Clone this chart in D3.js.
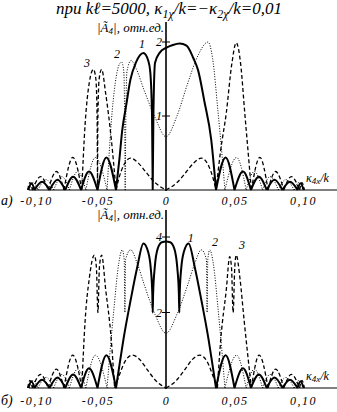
<!DOCTYPE html>
<html>
<head>
<meta charset="utf-8">
<script src="https://cdn.jsdelivr.net/npm/d3@7"></script>
<style>
  body { margin: 0; background: #fff; }
  text { font-family: "Liberation Serif", "DejaVu Serif", serif; font-style: italic; fill: #000; }
</style>
</head>
<body>
<svg id="board" width="337" height="412"></svg>
<script>
// x ticks and labels (same for both panels)
var xTicks = [-0.10, -0.05, 0, 0.05, 0.10];

// panel a) values, kappa/k vs |A4|
var solidA = [
  [-0.1005,0],[-0.0982,0.09],[-0.0960,0],[-0.0905,0.11],[-0.0850,0],[-0.0792,0.14],[-0.0735,0],
  [-0.0678,0.18],[-0.0620,0],[-0.0562,0.25],[-0.0500,0],[-0.0435,0.44],[-0.0365,0],
  [-0.034,0.42],[-0.032,0.8],[-0.029,1.15],[-0.026,1.49],[-0.022,1.72],[-0.0165,1.85],[-0.013,1.75],
  [-0.0115,1.6],[-0.0102,1.0],[-0.0097,0],
  [-0.0092,1.0],[-0.008,1.72],[-0.0044,1.86],[0,1.92],[0.005,1.96],[0.010,1.98],[0.015,1.95],
  [0.020,1.78],[0.0234,1.62],[0.028,1.2],[0.033,0.68],[0.0365,0],
  [0.0435,0.44],[0.0500,0],[0.0562,0.25],[0.0620,0],[0.0678,0.18],[0.0735,0],[0.0792,0.14],
  [0.0850,0],[0.0905,0.11],[0.0960,0],[0.0982,0.09],[0.1005,0]
];
var dottedA = [
  [-0.1000,0],[-0.0970,0.10],[-0.0935,0],[-0.0875,0.14],[-0.0820,0],[-0.0760,0.18],[-0.0705,0],
  [-0.0645,0.25],[-0.0585,0],[-0.0515,0.44],[-0.0430,0],
  [-0.040,0.9],[-0.037,1.45],[-0.0345,1.68],[-0.0324,1.73],[-0.0308,1.6],[-0.0302,1.0],[-0.0298,0],
  [-0.0293,1.0],[-0.0285,1.6],[-0.0255,1.75],[-0.022,1.65],[-0.016,1.35],[-0.008,0.98],[0,0.72],
  [0.008,1.0],[0.016,1.45],[0.0234,1.82],[0.0307,2.0],[0.034,1.78],[0.038,1.05],[0.041,0.45],[0.043,0],
  [0.0515,0.44],[0.0585,0],[0.0645,0.25],[0.0705,0],[0.0760,0.18],[0.0820,0],[0.0875,0.14],
  [0.0935,0],[0.0970,0.10],[0.1000,0]
];
var dashedA = [
  [-0.1010,0],[-0.0993,0.10],[-0.0975,0],[-0.0915,0.18],[-0.0860,0],[-0.0800,0.25],[-0.0745,0],
  [-0.0680,0.44],[-0.0615,0],
  [-0.059,0.9],[-0.056,1.45],[-0.053,1.63],[-0.0512,1.5],[-0.0503,1.0],[-0.0500,0],
  [-0.0497,1.0],[-0.0488,1.5],[-0.047,1.63],[-0.044,1.3],[-0.040,0.7],[-0.0365,0],
  [-0.0345,0.15],[-0.031,0.33],[-0.0258,0.43],[-0.020,0.36],[-0.015,0.25],[-0.008,0.1],[0,0],
  [0.008,0.1],[0.015,0.25],[0.020,0.36],[0.0258,0.43],[0.031,0.33],[0.0345,0.15],[0.0365,0],
  [0.040,0.55],[0.044,1.04],[0.048,1.7],[0.0513,1.99],[0.0545,1.7],[0.0575,1.04],[0.0600,0.5],[0.0623,0],
  [0.0685,0.44],[0.0745,0],[0.0800,0.25],[0.0860,0],[0.0915,0.18],[0.0975,0],[0.0993,0.10],[0.1010,0]
];

// panel b) values
var solidB = [
  [-0.1005,0],[-0.0982,0.18],[-0.0960,0],[-0.0905,0.22],[-0.0850,0],[-0.0792,0.28],[-0.0735,0],
  [-0.0678,0.36],[-0.0620,0],[-0.0562,0.52],[-0.0500,0],[-0.0435,0.87],[-0.0365,0],
  [-0.034,0.6],[-0.031,1.3],[-0.0258,2.33],[-0.021,3.2],[-0.0165,3.83],[-0.013,3.6],[-0.0112,3.2],
  [-0.0100,2.5],[-0.0097,2.0],[-0.0094,2.5],[-0.0082,3.2],[-0.006,3.7],[-0.003,3.86],[0,3.88],
  [0.003,3.86],[0.006,3.7],[0.0082,3.2],[0.0094,2.5],[0.0097,2.0],[0.0100,2.5],[0.0112,3.2],
  [0.013,3.6],[0.0165,3.83],[0.021,3.2],[0.0258,2.33],[0.031,1.3],[0.034,0.6],[0.0365,0],
  [0.0435,0.87],[0.0500,0],[0.0562,0.52],[0.0620,0],[0.0678,0.36],[0.0735,0],[0.0792,0.28],
  [0.0850,0],[0.0905,0.22],[0.0960,0],[0.0982,0.18],[0.1005,0]
];
var dottedB = [
  [-0.1000,0],[-0.0970,0.20],[-0.0935,0],[-0.0875,0.28],[-0.0820,0],[-0.0760,0.36],[-0.0705,0],
  [-0.0645,0.5],[-0.0585,0],[-0.0515,0.87],[-0.0430,0],
  [-0.041,0.9],[-0.038,2.1],[-0.0345,3.3],[-0.032,3.66],[-0.0305,3.4],[-0.0300,2.0],[-0.0295,3.4],
  [-0.0258,3.66],[-0.021,3.3],[-0.016,2.75],[-0.008,1.95],[0,1.45],
  [0.008,1.95],[0.016,2.75],[0.021,3.3],[0.0258,3.66],[0.0295,3.4],[0.0300,2.0],[0.0305,3.4],
  [0.032,3.66],[0.0345,3.3],[0.038,2.1],[0.041,0.9],[0.0430,0],
  [0.0515,0.87],[0.0585,0],[0.0645,0.5],[0.0705,0],[0.0760,0.36],[0.0820,0],[0.0875,0.28],
  [0.0935,0],[0.0970,0.20],[0.1000,0]
];
var dashedB = [
  [-0.1010,0],[-0.0993,0.20],[-0.0975,0],[-0.0915,0.36],[-0.0860,0],[-0.0800,0.5],[-0.0745,0],
  [-0.0680,0.87],[-0.0615,0],
  [-0.059,1.8],[-0.056,2.9],[-0.0523,3.52],[-0.0508,3.2],[-0.0497,2.0],[-0.0486,3.2],[-0.047,3.52],
  [-0.044,2.6],[-0.040,1.3],[-0.0375,0],
  [-0.0345,0.3],[-0.030,0.7],[-0.0245,0.87],[-0.019,0.75],[-0.014,0.5],[-0.007,0.18],[0,0],
  [0.007,0.18],[0.014,0.5],[0.019,0.75],[0.0245,0.87],[0.030,0.7],[0.0345,0.3],[0.0375,0],
  [0.040,1.3],[0.044,2.6],[0.0465,3.48],[0.0478,3.2],[0.0490,2.0],[0.0502,3.2],[0.0513,3.52],
  [0.054,2.9],[0.057,1.8],[0.0623,0],
  [0.0680,0.87],[0.0745,0],[0.0800,0.5],[0.0860,0],[0.0915,0.36],[0.0975,0],[0.0993,0.20],[0.1010,0]
];

// curve number labels, in data units
var notesA = [["3",-0.0577,1.72],["2",-0.0358,1.84],["1",-0.0175,1.97]];
var notesB = [["1",0.018,3.98],["2",0.0358,3.88],["3",0.0555,3.8]];

var svg = d3.select("#board");
svg.append("rect").attr("width",337).attr("height",412).attr("fill","#fff");

var fmt = function(d){
  if(d===0) return "0";
  return d3.format(".2f")(d).replace("\u2212","-").replace(".",",");
};

function segments(pts)
{
  var segs=[], cur=[];
  pts.forEach(function(p){
    cur.push(p);
    if(p[1]===0 && cur.length>1){ segs.push(cur); cur=[p]; }
  });
  if(cur.length>1) segs.push(cur);
  return segs;
}

function panel(cfg)
{
  var x = d3.scaleLinear().domain([-0.1,0.1]).range([29,303]);
  var y = d3.scaleLinear().domain([0,cfg.ymax]).range([cfg.base,cfg.top]);
  var g = svg.append("g");
  var x0 = x(0);

  // axes
  g.append("line").attr("x1",29).attr("x2",337).attr("y1",cfg.base).attr("y2",cfg.base)
    .attr("stroke","#000").attr("stroke-width",1);
  g.append("line").attr("x1",x0).attr("x2",x0).attr("y1",cfg.axTop).attr("y2",cfg.base+1)
    .attr("stroke","#000").attr("stroke-width",1.6);

  var xa = d3.axisBottom(x).tickValues(xTicks).tickSize(0).tickPadding(cfg.pad).tickFormat(fmt);
  var gx = g.append("g").attr("transform","translate(0,"+cfg.base+")").call(xa);
  gx.select(".domain").remove();
  gx.selectAll("text").style("font-family",'"Liberation Serif", serif').style("font-style","italic")
    .style("font-size","12px").style("letter-spacing","1.5px")
    .attr("dx",function(d){ return d===xTicks[0] ? 7 : 0; });

  cfg.yTicks.forEach(function(t){
    g.append("line").attr("x1",x0-4).attr("x2",x0+4).attr("y1",y(t)).attr("y2",y(t))
      .attr("stroke","#000").attr("stroke-width",1);
    g.append("text").attr("x",x0-7).attr("y",y(t)+4).attr("text-anchor","middle")
      .style("font-size","12px").text(t);
  });

  // y label
  var yl = g.append("text").attr("x",x0-2).attr("y",cfg.yl).attr("text-anchor","end")
    .style("font-size","13px");
  yl.append("tspan").text("|\u00C3");
  yl.append("tspan").attr("dy",2).style("font-size","9px").text("4");
  yl.append("tspan").attr("dy",-2).text("|, \u043E\u0442\u043D.\u0435\u0434.");

  // x label
  var xl = g.append("text").attr("x",306).attr("y",cfg.base-8).style("font-size","12px");
  xl.append("tspan").text("\u03BA");
  xl.append("tspan").attr("dy",2).style("font-size","9px").text("4x");
  xl.append("tspan").attr("dy",-2).text("/k");

  // panel letter
  g.append("text").attr("x",1).attr("y",cfg.base+cfg.letOff).style("font-size","14px").text(cfg.letter);

  var line = d3.line().x(function(d){return x(d[0]);}).y(function(d){return y(d[1]);})
    .curve(d3.curveMonotoneX);
  function draw(data, w, dash)
  {
    var dstr = segments(data).map(function(s){return line(s);}).join("");
    g.append("path").attr("d",dstr).attr("fill","none").attr("stroke","#000")
      .attr("stroke-width",w).attr("stroke-dasharray",dash).attr("stroke-linejoin","round");
  }
  draw(cfg.dotted, 1, "1,1.6");
  draw(cfg.dashed, 1.3, "4,2.5");
  draw(cfg.solid, 2, null);

  cfg.notes.forEach(function(n){
    g.append("text").attr("x",x(n[1])).attr("y",y(n[2])+4).attr("text-anchor","middle")
      .style("font-size","12px").text(n[0]);
  });
}

// title
var tt = svg.append("text").attr("x",169).attr("y",14).attr("text-anchor","middle").style("font-size","17px");
tt.append("tspan").text("\u043F\u0440\u0438 k\u2113=5000, \u03BA");
tt.append("tspan").attr("dy",4).style("font-size","12px").text("1\u03C7");
tt.append("tspan").attr("dy",-4).text("/k=\u2212\u03BA");
tt.append("tspan").attr("dy",4).style("font-size","12px").text("2\u03C7");
tt.append("tspan").attr("dy",-4).text("/k=0,01");

panel({ ymax:2, base:190, top:42, axTop:22, yTicks:[1,2], yl:32, pad:6, letOff:15, letter:"\u0430)",
  solid:solidA, dotted:dottedA, dashed:dashedA, notes:notesA });
panel({ ymax:4, base:388, top:237, axTop:210, yTicks:[2,4], yl:219, pad:8, letOff:17, letter:"\u0431)",
  solid:solidB, dotted:dottedB, dashed:dashedB, notes:notesB });
</script>
</body>
</html>
